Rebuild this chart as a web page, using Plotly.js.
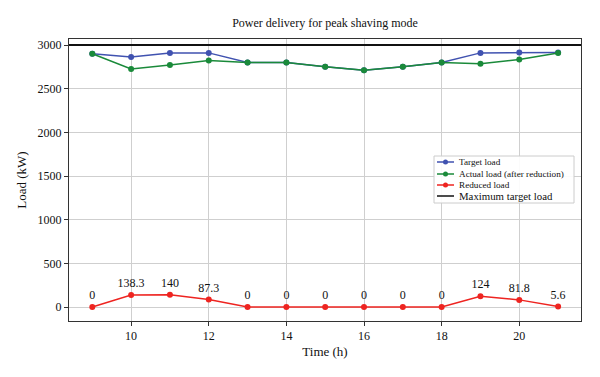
<!DOCTYPE html>
<html><head><meta charset="utf-8">
<script src="https://cdn.plot.ly/plotly-3.0.1.min.js"></script>
<style>html,body{margin:0;padding:0;background:#fff}#c{width:600px;height:377px}</style>
</head><body><div id="c"></div>
<script>
const hours = [9,10,11,12,13,14,15,16,17,18,19,20,21];
const targetLoad = [2900,2863,2910,2910,2800,2800,2750,2710,2750,2800,2910,2915,2915];
const actualLoad = [2900,2725,2770,2823,2800,2800,2750,2710,2750,2800,2786,2833,2909];
const reducedLoad = [0,138.3,140,87.3,0,0,0,0,0,0,124,81.8,5.6];
const reducedLabels = ['0','138.3','140','87.3','0','0','0','0','0','0','124','81.8','5.6'];
const maxTarget = 3000;
const seriesNames = ['Target load','Actual load (after reduction)','Reduced load','Maximum target load'];
const xRange = [8.40, 21.59];

const font = 'Liberation Serif, Times New Roman, serif';
const colors = ['#4052b0','#1a8a3a','#ee2420','#111'];

// plot area in pixels
const L = 69, R = 581, T = 39, B = 321, W = 600, H = 377;
const px = v => (v - L) / (R - L);
const py = v => (B - v) / (B - T);

const traces = [
  {x: hours, y: targetLoad, mode: 'lines+markers', name: seriesNames[0],
   line: {color: colors[0], width: 1.5}, marker: {color: colors[0], size: 6}},
  {x: hours, y: actualLoad, mode: 'lines+markers', name: seriesNames[1],
   line: {color: colors[1], width: 1.5}, marker: {color: colors[1], size: 6}},
  {x: hours, y: reducedLoad, mode: 'lines+markers+text', name: seriesNames[2],
   text: reducedLabels, textposition: 'top center', textfont: {family: font, size: 12, color: '#111'},
   line: {color: colors[2], width: 1.5}, marker: {color: colors[2], size: 6}},
  {x: xRange, y: [maxTarget, maxTarget], mode: 'lines', name: seriesNames[3],
   line: {color: colors[3], width: 2}}
];

// custom compact legend
const shapes = [{type: 'rect', xref: 'paper', yref: 'paper', x0: px(434), x1: px(574), y0: py(156), y1: py(203),
  fillcolor: 'rgba(255,255,255,0.9)', line: {color: '#cccccc', width: 1}, layer: 'above'}];
const annotations = [];
const rows = [162, 174, 185, 196];
rows.forEach((ry, i) => {
  shapes.push({type: 'line', xref: 'paper', yref: 'paper', x0: px(437), x1: px(454), y0: py(ry), y1: py(ry),
    line: {color: colors[i], width: 1.5}, layer: 'above'});
  if (i < 3) shapes.push({type: 'circle', xref: 'paper', yref: 'paper', x0: px(443), x1: px(448), y0: py(ry + 2.5), y1: py(ry - 2.5),
    fillcolor: colors[i], line: {color: colors[i], width: 0}, layer: 'above'});
  annotations.push({xref: 'paper', yref: 'paper', x: px(457), y: py(ry), xanchor: 'left', yanchor: 'middle',
    text: seriesNames[i], showarrow: false, font: {family: font, size: i < 3 ? 9.2 : 10.8, color: '#111'}});
});

const layout = {
  width: W, height: H,
  margin: {l: L, r: W - R, t: T, b: H - B},
  paper_bgcolor: '#fff', plot_bgcolor: '#fff',
  font: {family: font, size: 12, color: '#111'},
  showlegend: false,
  title: {text: 'Power delivery for peak shaving mode', xref: 'paper', x: 0.5, xanchor: 'center', y: 0.94, yanchor: 'middle', font: {family: font, size: 12}},
  xaxis: {range: xRange, tickvals: [10,12,14,16,18,20], ticks: 'outside', ticklen: 4, tickcolor: '#333',
    showgrid: true, gridcolor: '#cfcfcf', gridwidth: 1, zeroline: false,
    showline: true, linecolor: '#333', linewidth: 1, mirror: true,
    title: {text: 'Time (h)', font: {family: font, size: 13}, standoff: 4}, tickfont: {size: 12}},
  yaxis: {range: [-160, 3069], tickvals: [0,500,1000,1500,2000,2500,3000], ticks: 'outside', ticklen: 4, tickcolor: '#333',
    showgrid: true, gridcolor: '#cfcfcf', gridwidth: 1, zeroline: false,
    showline: true, linecolor: '#333', linewidth: 1, mirror: true,
    title: {text: 'Load (kW)', font: {family: font, size: 13}, standoff: 8}, tickfont: {size: 12}},
  shapes: shapes,
  annotations: annotations
};
Plotly.newPlot('c', traces, layout, {staticPlot: true, displayModeBar: false});
</script></body></html>
